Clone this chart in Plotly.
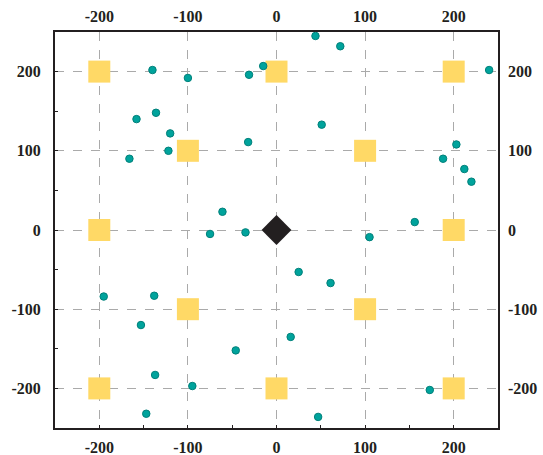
import plotly.graph_objects as go

# teal scatter points
dot_x = [-140, -100, -31, -15, -158, -136, -120, -122, -166, -32, -61, -75, -35,
         44, 72, 240, 51, 203, 188, 212, 220, 156, 105,
         -195, -138, -153, -46, -137, -95, -147,
         25, 61, 16, 173, 47]
dot_y = [202, 192, 196, 207, 140, 148, 122, 100, 90, 111, 23, -5, -3,
         245, 232, 202, 133, 108, 90, 77, 61, 10, -9,
         -84, -83, -120, -152, -183, -197, -232,
         -53, -67, -135, -202, -236]

# yellow squares
sq_x = [-200, 0, 200, -100, 100, -200, 200, -100, 100, -200, 0, 200]
sq_y = [200, 200, 200, 100, 100, 0, 0, -100, -100, -200, -200, -200]

# centre diamond
center_x = [0]
center_y = [0]

tick_vals = [-200, -100, 0, 100, 200]
tick_text = ["-200", "-100", "0", "100", "200"]
axis_range = [-250, 250]

fig = go.Figure()
fig.add_trace(go.Scatter(x=sq_x, y=sq_y, mode="markers",
                         marker=dict(symbol="square", size=22, color="#FFD966",
                                     line=dict(width=0)),
                         hoverinfo="skip"))
fig.add_trace(go.Scatter(x=dot_x, y=dot_y, mode="markers",
                         marker=dict(symbol="circle", size=7.5, color="#00A39C",
                                     line=dict(width=1, color="#00807A"))))
fig.add_trace(go.Scatter(x=center_x, y=center_y, mode="markers",
                         marker=dict(symbol="diamond", size=23, color="#231F20",
                                     line=dict(width=0))))
# invisible trace to activate secondary axes
fig.add_trace(go.Scatter(x=center_x, y=center_y, mode="markers", xaxis="x2", yaxis="y2",
                         marker=dict(size=1, opacity=0), hoverinfo="skip"))

font = dict(family="Liberation Serif, Times New Roman, serif", size=16,
            color="#231F20", weight="bold")
common = dict(range=axis_range, tickvals=tick_vals, ticktext=tick_text,
              tickfont=font, zeroline=False, fixedrange=True, automargin=False)

fig.update_layout(
    width=543, height=455,
    margin=dict(l=55, r=45, t=32, b=27),
    paper_bgcolor="white", plot_bgcolor="white",
    showlegend=False,
    xaxis=dict(**common, showgrid=True, gridcolor="#AAAAAA", griddash="dash", gridwidth=1,
               showline=True, linecolor="#231F20", linewidth=2, mirror=True,
               ticks="inside", ticklen=3, tickcolor="#231F20",
               minor=dict(tickvals=[-150, -50, 50, 150], ticks="inside", ticklen=3,
                          tickcolor="#231F20", showgrid=False),
               ticklabelstandoff=4),
    yaxis=dict(**common, showgrid=True, gridcolor="#AAAAAA", griddash="dash", gridwidth=1,
               showline=True, linecolor="#231F20", linewidth=2, mirror=True,
               ticks="inside", ticklen=3, tickcolor="#231F20",
               minor=dict(tickvals=[-150, -50, 50, 150], ticks="inside", ticklen=3,
                          tickcolor="#231F20", showgrid=False),
               ticklabelstandoff=9),
    xaxis2=dict(**common, overlaying="x", side="top", anchor="y2", showgrid=False,
                showline=False, ticks="", ticklabelstandoff=6),
    yaxis2=dict(**common, overlaying="y", side="right", anchor="x2", showgrid=False,
                showline=False, ticks="", ticklabelstandoff=9),
)

fig.write_html("out.html", config={"displayModeBar": False},
               post_script="document.body.style.margin='0';")
